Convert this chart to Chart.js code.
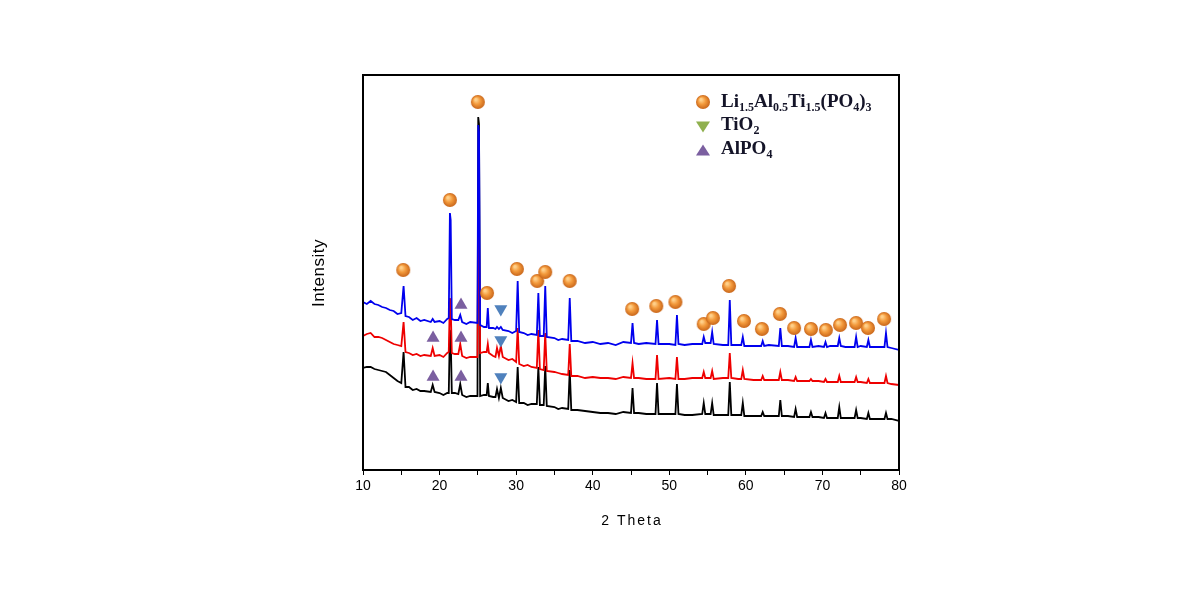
<!DOCTYPE html>
<html>
<head>
<meta charset="utf-8">
<script src="https://cdn.jsdelivr.net/npm/chart.js@4"></script>
<style>
  html, body { margin: 0; padding: 0; background: #fff; }
  canvas { display: block; }
</style>
</head>
<body>
<canvas id="xrdChart" width="1190" height="605"></canvas>
<script>
// 2 theta positions shared by the three patterns
var twoTheta = [
  10, 10.5, 11, 11.5, 12, 12.5, 13, 13.5, 14, 14.5, 15,
  15.3, 15.55, 16, 16.5, 17, 17.5, 18,
  18.85, 19.1, 19.35, 20, 20.5, 21,
  21.2, 21.35, 21.45, 21.6, 22,
  22.45, 22.7, 22.95, 23.5, 24,
  24.95, 25.05, 25.15, 25.3, 25.8,
  26.15, 26.3, 26.45, 27,
  27.3, 27.5, 27.75, 28.0, 28.25, 29, 29.5,
  30.0, 30.2, 30.4, 31, 31.5, 32,
  32.7, 32.9, 33.1, 33.6, 33.8, 34.0, 35, 35.5, 36,
  36.8, 37.0, 37.2, 38, 39, 40, 41, 42, 43, 44,
  45.0, 45.2, 45.4, 46, 47,
  48.2, 48.4, 48.6, 50,
  50.8, 51.0, 51.2, 52, 53,
  54.3, 54.5, 54.7, 55.4, 55.6, 55.8, 57,
  57.7, 57.9, 58.1, 59,
  59.4, 59.6, 59.8, 61,
  62.0, 62.2, 62.4, 63,
  64.3, 64.5, 64.7, 65.5,
  66.3, 66.5, 66.7, 67.5,
  68.3, 68.5, 68.7, 69.5,
  70.2, 70.4, 70.6, 71,
  72.0, 72.2, 72.4, 73,
  74.2, 74.4, 74.6, 75,
  75.8, 76.0, 76.2, 77,
  78.1, 78.3, 78.5, 79, 80
];

// intensities (a.u., offset patterns as plotted)
var blueI = [
  168, 166, 169, 166, 165, 163, 162, 160, 159, 156, 157,
  184, 154, 153, 150, 152, 149, 150,
  148, 151, 148, 149, 147, 151,
  152, 257, 250, 151, 150,
  150, 155, 148, 146, 148,
  147, 345, 338, 145, 143,
  143, 162, 142, 142,
  141, 143, 141, 143, 140, 139, 137,
  139, 189, 138, 137, 135, 136,
  135, 177, 134, 134, 184, 133, 132, 130, 131,
  130, 172, 129, 129, 127, 128, 126, 127, 125, 128,
  127, 147, 127, 126, 127,
  126, 150, 126, 126,
  125, 155, 126, 125, 126,
  126, 133, 127, 127, 138, 126, 125,
  125, 170, 125, 125,
  125, 133, 124, 124,
  124, 129, 124, 125,
  124, 142, 124, 124,
  123, 132, 123, 123,
  123, 130, 123, 124,
  123, 128, 123, 124,
  124, 132, 124, 123,
  123, 133, 123, 124,
  123, 130, 123, 123,
  123, 137, 123, 122, 120
];
var redI = [
  134, 136, 137, 133, 133, 132, 130, 128, 126, 125, 124,
  148, 118, 117, 115, 116, 114, 115,
  114, 122, 114, 115, 113, 117,
  118, 172, 165, 117, 116,
  116, 126, 114, 112, 113,
  113, 240, 235, 117, 118,
  118, 126, 117, 114,
  113, 122, 114, 124, 113, 110, 111,
  108, 142, 106, 104, 105, 103,
  102, 140, 101, 100, 137, 99, 98, 97, 96,
  95, 126, 94, 94, 92, 93, 92, 92, 91, 93,
  92, 107, 92, 92, 91,
  91, 115, 91, 92,
  91, 113, 91, 91, 92,
  92, 98, 92, 92, 99, 91, 92,
  92, 117, 92, 91,
  91, 100, 91, 90,
  90, 94, 90, 90,
  90, 98, 90, 90,
  89, 93, 89, 89,
  89, 91, 89, 89,
  88, 91, 88, 88,
  88, 94, 88, 88,
  88, 93, 88, 88,
  87, 91, 87, 87,
  87, 94, 87, 86, 85
];
var blackI = [
  102, 103, 103, 101, 100, 99, 98, 95, 92, 89, 87,
  118, 83, 83, 80, 81, 79, 79,
  78, 85, 78, 77, 75, 77,
  77, 140, 135, 77, 77,
  76, 86, 75, 73, 74,
  74, 353, 346, 74, 75,
  75, 87, 74, 73,
  73, 81, 72, 82, 72, 69, 70,
  68, 103, 67, 67, 65, 66,
  66, 103, 65, 65, 104, 64, 63, 61, 62,
  61, 100, 60, 60, 59, 58, 57, 57, 56, 58,
  57, 82, 57, 57, 56,
  56, 87, 56, 56,
  56, 86, 56, 55, 55,
  56, 67, 56, 56, 67, 55, 55,
  55, 88, 55, 55,
  55, 67, 54, 54,
  54, 58, 54, 54,
  54, 70, 54, 54,
  53, 61, 53, 53,
  53, 58, 53, 53,
  52, 57, 52, 52,
  52, 63, 52, 52,
  52, 60, 52, 52,
  51, 57, 51, 51,
  51, 57, 51, 51, 49
];

// phase markers
var latpX = [15.25, 21.35, 25.0, 26.2, 30.1, 32.75, 33.8, 37.0, 45.15, 48.3, 50.8, 54.5,
             55.7, 57.8, 59.75, 62.1, 64.45, 66.3, 68.5, 70.45, 72.3, 74.4, 75.95, 78.05];
var latpY = [200, 270, 368, 177, 201, 189, 198, 189, 161, 164, 168, 146,
             152, 184, 149, 141, 156, 142, 141, 140, 145, 147, 142, 151];
var tio2X = [28.0, 28.0, 28.0];
var tio2Y = [161, 130, 93];
var alpo4X = [19.15, 22.8, 19.15, 22.8, 22.8];
var alpo4Y = [93, 93, 132, 132, 165];

var xTicks = [10, 20, 30, 40, 50, 60, 70, 80];

function pairs(xs, ys) {
    return xs.map(function (x, i) { return { x: x, y: ys[i] }; });
}

// little shaded orange ball used for the LATP marks
function makeBall(r) {
    var c = document.createElement('canvas');
    c.width = c.height = r * 2 + 2;
    var g = c.getContext('2d');
    var cx = r + 1, cy = r + 1;
    var grad = g.createRadialGradient(cx - r * 0.3, cy - r * 0.35, 1, cx, cy, r);
    grad.addColorStop(0, '#ffd08a');
    grad.addColorStop(0.45, '#f39a3c');
    grad.addColorStop(1, '#c9661a');
    g.beginPath();
    g.arc(cx, cy, r, 0, Math.PI * 2);
    g.fillStyle = grad;
    g.fill();
    return c;
}
var ball = makeBall(7);

function drawTri(ctx, x, y, s, down, color) {
    ctx.beginPath();
    if (down) {
        ctx.moveTo(x - s, y - s * 0.8);
        ctx.lineTo(x + s, y - s * 0.8);
        ctx.lineTo(x, y + s * 0.8);
    } else {
        ctx.moveTo(x - s, y + s * 0.8);
        ctx.lineTo(x + s, y + s * 0.8);
        ctx.lineTo(x, y - s * 0.8);
    }
    ctx.closePath();
    ctx.fillStyle = color;
    ctx.fill();
}

function drawRich(ctx, x, y, parts) {
    parts.forEach(function (p) {
        ctx.font = p[1] ? 'bold 12px "Liberation Serif", "Times New Roman", serif'
                        : 'bold 19px "Liberation Serif", "Times New Roman", serif';
        ctx.fillText(p[0], x, p[1] ? y + 4 : y);
        x += ctx.measureText(p[0]).width;
    });
}

var framePlugin = {
    id: 'frameAndText',
    afterDraw: function (chart) {
        var ctx = chart.ctx, a = chart.chartArea;
        ctx.save();
        // box around the plot
        ctx.strokeStyle = '#000';
        ctx.lineWidth = 2;
        ctx.beginPath();
        ctx.moveTo(a.left, a.bottom);
        ctx.lineTo(a.left, a.top);
        ctx.lineTo(a.right, a.top);
        ctx.lineTo(a.right, a.bottom);
        ctx.stroke();

        // axis titles
        ctx.fillStyle = '#000';
        ctx.textAlign = 'center';
        ctx.textBaseline = 'middle';
        ctx.font = '14px "Liberation Sans", Arial, sans-serif';
        ctx.letterSpacing = '2px';
        ctx.fillText('2 Theta', (a.left + a.right) / 2 + 1, 521);
        ctx.letterSpacing = '0.5px';
        ctx.translate(319, 273);
        ctx.rotate(-Math.PI / 2);
        ctx.font = '17px "Liberation Sans", Arial, sans-serif';
        ctx.fillText('Intensity', 0, 0);
        ctx.restore();

        // legend
        ctx.save();
        ctx.drawImage(ball, 703 - 8, 102 - 8);
        drawTri(ctx, 703, 127, 7, true, '#8fb04e');
        drawTri(ctx, 703, 150, 7, false, '#7b5fa0');
        ctx.fillStyle = '#141428';
        ctx.textAlign = 'left';
        ctx.textBaseline = 'alphabetic';
        drawRich(ctx, 721, 107, [['Li', 0], ['1.5', 1], ['Al', 0], ['0.5', 1], ['Ti', 0], ['1.5', 1],
                                 ['(PO', 0], ['4', 1], [')', 0], ['3', 1]]);
        drawRich(ctx, 721, 130, [['TiO', 0], ['2', 1]]);
        drawRich(ctx, 721, 154, [['AlPO', 0], ['4', 1]]);
        ctx.restore();
    }
};

document.addEventListener('DOMContentLoaded', function () {
    var ctx = document.getElementById('xrdChart').getContext('2d');
    var xrdChart = new Chart(ctx, {
        type: 'line',
        data: {
            datasets: [
                { data: pairs(latpX, latpY), showLine: false, pointStyle: ball, pointRadius: 7, order: -3 },
                { data: pairs(tio2X, tio2Y), showLine: false, pointStyle: 'triangle', rotation: 180,
                  pointRadius: 7.5, pointBackgroundColor: '#4f81bd', pointBorderWidth: 0, order: -2 },
                { data: pairs(alpo4X, alpo4Y), showLine: false, pointStyle: 'triangle',
                  pointRadius: 7.5, pointBackgroundColor: '#7b5fa0', pointBorderWidth: 0, order: -1 },
                { label: 'blue', data: pairs(twoTheta, blueI), borderColor: '#0000ee', borderWidth: 1.8, pointRadius: 0, order: 0 },
                { label: 'red', data: pairs(twoTheta, redI), borderColor: '#ee0000', borderWidth: 1.8, pointRadius: 0, order: 1 },
                { label: 'black', data: pairs(twoTheta, blackI), borderColor: '#000000', borderWidth: 1.8, pointRadius: 0, order: 2 }
            ]
        },
        options: {
            responsive: false,
            animation: false,
            devicePixelRatio: 1,
            layout: { padding: { left: 363, right: 291, top: 75, bottom: 0 } },
            plugins: { legend: { display: false }, tooltip: { enabled: false } },
            elements: { line: { tension: 0 } },
            scales: {
                x: {
                    type: 'linear',
                    min: 10,
                    max: 80,
                    afterFit: function (scale) { scale.height = 135; },
                    afterBuildTicks: function (scale) {
                        var t = [];
                        xTicks.forEach(function (v, i) {
                            t.push({ value: v });
                            if (i < xTicks.length - 1) t.push({ value: v + 5 });
                        });
                        scale.ticks = t;
                    },
                    grid: { display: true, drawOnChartArea: false, drawTicks: true, tickLength: 5, color: '#000', lineWidth: 1 },
                    border: { display: true, color: '#000', width: 2 },
                    ticks: {
                        autoSkip: false,
                        maxRotation: 0,
                        padding: 3,
                        color: '#000',
                        font: { family: '"Liberation Sans", Arial, sans-serif', size: 14 },
                        callback: function (v) { return xTicks.indexOf(v) >= 0 ? String(v) : ''; }
                    }
                },
                y: { min: 0, max: 395, display: false }
            }
        },
        plugins: [framePlugin]
    });
});
</script>
</body>
</html>
